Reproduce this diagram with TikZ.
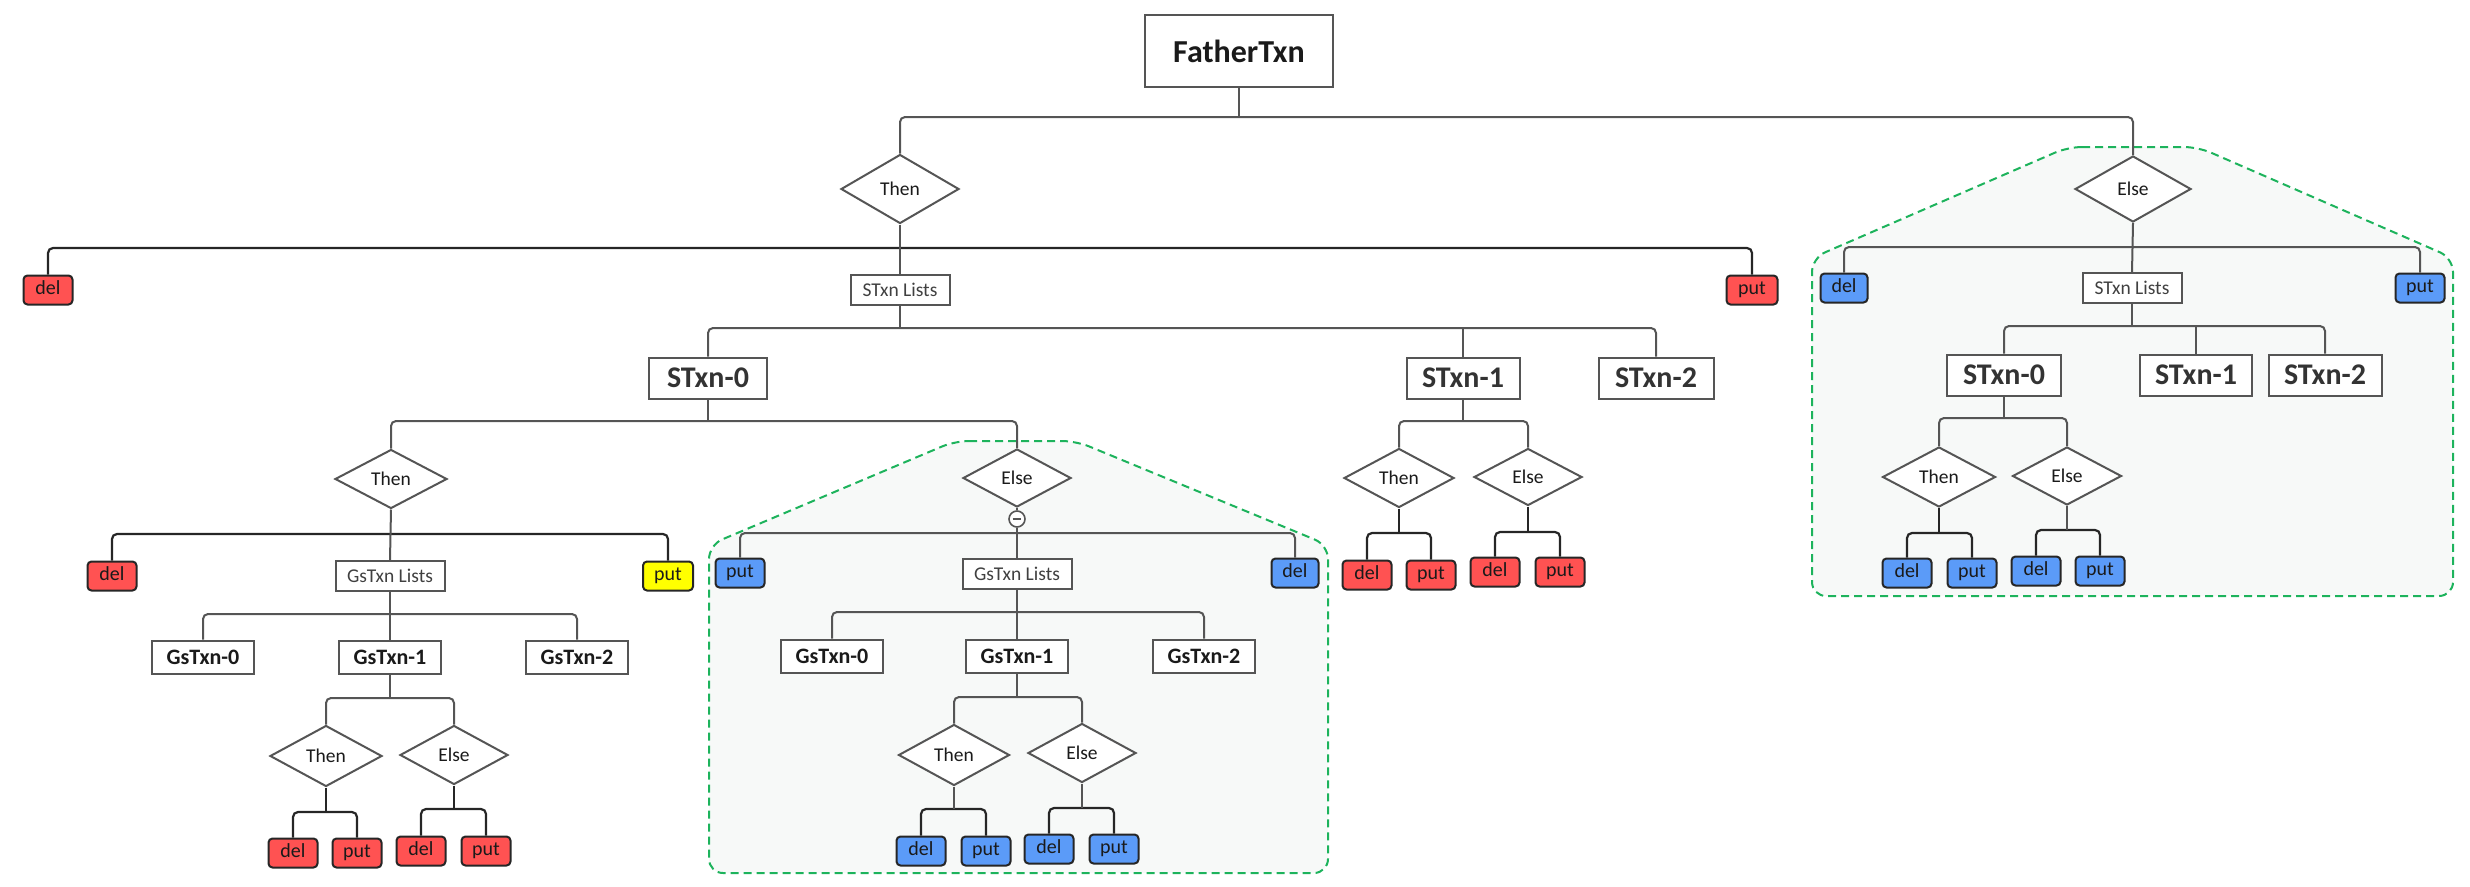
\documentclass[tikz,border=0pt]{standalone}
\usepackage{fontspec}
\setmainfont{Carlito}
\usetikzlibrary{shapes.geometric}
\definecolor{redf}{HTML}{FF5252}
\definecolor{bluef}{HTML}{5B9BF8}
\definecolor{yelf}{HTML}{FFFF00}
\definecolor{grn}{HTML}{1DB35C}
\definecolor{regf}{HTML}{F7F9F8}
\definecolor{lin}{HTML}{555555}
\definecolor{txt}{HTML}{1A1A1A}
\tikzset{
  box/.style={draw=lin, line width=2pt, fill=white, inner sep=0pt, text=txt},
  father/.style={box, minimum width=188, minimum height=72, font=\fontsize{32}{32}\selectfont\bfseries},
  big/.style={box, minimum width=116, minimum height=41, font=\fontsize{30}{30}\selectfont\bfseries, text=black!80},
  gs/.style={box, minimum width=102, minimum height=33, font=\fontsize{22}{22}\selectfont\bfseries},
  lst/.style={box, minimum width=104, minimum height=30, font=\fontsize{19.5}{19.5}\selectfont, text=black!75},
  dia/.style={diamond, draw=lin, line width=2pt, fill=white, inner sep=0pt, minimum width=110, minimum height=59, font=\fontsize{19.5}{19.5}\selectfont, text=txt},
  leaf/.style={draw=black!85, line width=2pt, rounded corners=4pt, minimum width=49, minimum height=29, inner sep=0pt, text height=12pt, text depth=4pt, font=\fontsize{20}{20}\selectfont, text=txt},
  rl/.style={leaf, fill=redf},
  bl/.style={leaf, fill=bluef},
  yl/.style={leaf, fill=yelf},
  conn/.style={draw=lin, line width=2pt, rounded corners=5pt},
  dconn/.style={draw=black!85, line width=2.2pt, rounded corners=5pt},
  region/.style={draw=grn, fill=regf, line width=2pt, dash pattern=on 8pt off 5pt, rounded corners=14pt}
}
\begin{document}
\begin{tikzpicture}[x=1pt,y=-1pt]
\useasboundingbox (0,0) rectangle (2470,886);
% regions
\draw[region] (955,441) -- (1076,441) -- (1328,545) -- (1328,873) -- (709,873) -- (709,545) -- cycle;
\draw[region] (2068,147) -- (2198,147) -- (2453,258) -- (2453,596) -- (1812,596) -- (1812,258) -- cycle;

% top
\node[father] (F) at (1239,51) {FatherTxn};
\node[dia, minimum width=118, minimum height=69] (T1) at (900,189) {Then};
\node[dia, minimum width=116, minimum height=66] (E1) at (2133,189) {Else};
\coordinate (b0) at (0,117);
\draw[conn] (T1.north) |- (b0 -| E1) -- (E1.north);
\draw[conn] (F.south) -- (F.south |- b0);

% Then1 children
\node[rl] (d1) at (48,290) {del};
\node[lst, minimum width=99] (L1) at (900,290) {STxn Lists};
\node[rl, minimum width=51] (p1) at (1752,290) {put};
\coordinate (b1) at (0,248);
\draw[dconn] (d1.north) |- (b1 -| p1) -- (p1.north);
\draw[conn] (T1.south) -- (L1.north);

% STxn list
\node[big, minimum width=118] (S0) at (708,378) {STxn-0};
\node[big, minimum width=113] (S1) at (1463,378) {STxn-1};
\node[big, minimum width=115] (S2) at (1656,378) {STxn-2};
\coordinate (b2) at (0,328);
\draw[conn] (S0.north) |- (b2 -| S2) -- (S2.north);
\draw[conn] (S1.north) -- (S1.north |- b2);
\draw[conn] (L1.south) -- (L1.south |- b2);

% STxn-0 children
\node[dia, minimum width=112, minimum height=59] (T2) at (391,479) {Then};
\node[dia, minimum width=108, minimum height=58] (E2) at (1017,478) {Else};
\coordinate (b3) at (0,421);
\draw[conn] (T2.north) |- (b3 -| E2) -- (E2.north);
\draw[conn] (S0.south) -- (S0.south |- b3);

% Then2 children
\node[rl] (d2) at (112,576) {del};
\node[lst, minimum width=109] (GL1) at (390,576) {GsTxn Lists};
\node[yl, minimum width=50] (p2) at (668,576) {put};
\coordinate (b4) at (0,534);
\draw[dconn] (d2.north) |- (b4 -| p2) -- (p2.north);
\draw[conn] (T2.south) -- (GL1.north);

\node[gs] (G0) at (203,657) {GsTxn-0};
\node[gs] (G1) at (390,657) {GsTxn-1};
\node[gs] (G2) at (577,657) {GsTxn-2};
\coordinate (b5) at (0,614);
\draw[conn] (G0.north) |- (b5 -| G2) -- (G2.north);
\draw[conn] (GL1.south) -- (G1.north);

\node[dia, minimum width=112, minimum height=61] (T3) at (326,756) {Then};
\node[dia, minimum width=108, minimum height=59] (E3) at (454,755) {Else};
\coordinate (b6) at (0,698);
\draw[conn] (T3.north) |- (b6 -| E3) -- (E3.north);
\draw[conn] (G1.south) -- (G1.south |- b6);

\node[rl] (d3) at (293,853) {del};
\node[rl] (p3) at (357,853) {put};
\coordinate (b7) at (0,812);
\draw[dconn] (d3.north) |- (b7 -| p3) -- (p3.north);
\draw[dconn] (T3.south) -- (T3.south |- b7);

\node[rl] (d4) at (421,851) {del};
\node[rl] (p4) at (486,851) {put};
\coordinate (b8) at (0,809);
\draw[dconn] (d4.north) |- (b8 -| p4) -- (p4.north);
\draw[dconn] (E3.south) -- (E3.south |- b8);

% Else2 children
\node[circle, draw=lin, line width=1.6pt, fill=white, minimum size=16, inner sep=0pt] (c2) at (1017,519) {};
\draw[lin, line width=1.6pt] ([xshift=4.5pt]c2.west) -- ([xshift=-4.5pt]c2.east);
\draw[conn] (E2.south) -- (c2.north);
\node[bl] (p5) at (740,573) {put};
\node[lst, minimum width=109] (GL2) at (1017,574) {GsTxn Lists};
\node[bl, minimum width=47] (d5) at (1295,573) {del};
\coordinate (b9) at (0,533);
\draw[conn] (p5.north) |- (b9 -| d5) -- (d5.north);
\draw[conn] (c2.south) -- (GL2.north);

\node[gs] (H0) at (832,656) {GsTxn-0};
\node[gs] (H1) at (1017,656) {GsTxn-1};
\node[gs] (H2) at (1204,656) {GsTxn-2};
\coordinate (b10) at (0,612);
\draw[conn] (H0.north) |- (b10 -| H2) -- (H2.north);
\draw[conn] (GL2.south) -- (H1.north);

\node[dia, minimum width=111, minimum height=61] (T4) at (954,755) {Then};
\node[dia, minimum width=108, minimum height=59] (E4) at (1082,753) {Else};
\coordinate (b11) at (0,697);
\draw[conn] (T4.north) |- (b11 -| E4) -- (E4.north);
\draw[conn] (H1.south) -- (H1.south |- b11);

\node[bl] (d6) at (921,851) {del};
\node[bl] (p6) at (986,851) {put};
\coordinate (b12) at (0,809);
\draw[dconn] (d6.north) |- (b12 -| p6) -- (p6.north);
\draw[conn] (T4.south) -- (T4.south |- b12);

\node[bl] (d7) at (1049,849) {del};
\node[bl] (p7) at (1114,849) {put};
\coordinate (b13) at (0,808);
\draw[dconn] (d7.north) |- (b13 -| p7) -- (p7.north);
\draw[conn] (E4.south) -- (E4.south |- b13);

% STxn-1 children
\node[dia, minimum width=110, minimum height=59] (T5) at (1399,478) {Then};
\node[dia, minimum width=108, minimum height=57] (E5) at (1528,477) {Else};
\coordinate (b14) at (0,421);
\draw[conn] (T5.north) |- (b14 -| E5) -- (E5.north);
\draw[conn] (S1.south) -- (S1.south |- b14);

\node[rl] (d8) at (1367,575) {del};
\node[rl] (p8) at (1431,575) {put};
\coordinate (b15) at (0,533);
\draw[dconn] (d8.north) |- (b15 -| p8) -- (p8.north);
\draw[dconn] (T5.south) -- (T5.south |- b15);

\node[rl] (d9) at (1495,572) {del};
\node[rl] (p9) at (1560,572) {put};
\coordinate (b16) at (0,532);
\draw[dconn] (d9.north) |- (b16 -| p9) -- (p9.north);
\draw[dconn] (E5.south) -- (E5.south |- b16);

% Else1 children
\node[bl, minimum width=47] (d10) at (1844,288) {del};
\node[lst, minimum width=99] (L2) at (2132,288) {STxn Lists};
\node[bl] (p10) at (2420,288) {put};
\coordinate (b17) at (0,247);
\draw[conn] (d10.north) |- (b17 -| p10) -- (p10.north);
\draw[conn] (E1.south) -- (L2.north);

\node[big, minimum width=114] (R0) at (2004,375) {STxn-0};
\node[big, minimum width=112] (R1) at (2196,375) {STxn-1};
\node[big, minimum width=113] (R2) at (2325,375) {STxn-2};
\coordinate (b18) at (0,326);
\draw[conn] (R0.north) |- (b18 -| R2) -- (R2.north);
\draw[conn] (R1.north) -- (R1.north |- b18);
\draw[conn] (L2.south) -- (L2.south |- b18);

\node[dia, minimum width=113, minimum height=60] (T6) at (1939,477) {Then};
\node[dia, minimum width=109, minimum height=58] (E6) at (2067,476) {Else};
\coordinate (b19) at (0,418);
\draw[conn] (T6.north) |- (b19 -| E6) -- (E6.north);
\draw[conn] (R0.south) -- (R0.south |- b19);

\node[bl] (d11) at (1907,573) {del};
\node[bl] (p11) at (1972,573) {put};
\coordinate (b20) at (0,533);
\draw[dconn] (d11.north) |- (b20 -| p11) -- (p11.north);
\draw[dconn] (T6.south) -- (T6.south |- b20);

\node[bl] (d12) at (2036,571) {del};
\node[bl] (p12) at (2100,571) {put};
\coordinate (b21) at (0,530);
\draw[dconn] (d12.north) |- (b21 -| p12) -- (p12.north);
\draw[conn] (E6.south) -- (E6.south |- b21);
\end{tikzpicture}
\end{document}
